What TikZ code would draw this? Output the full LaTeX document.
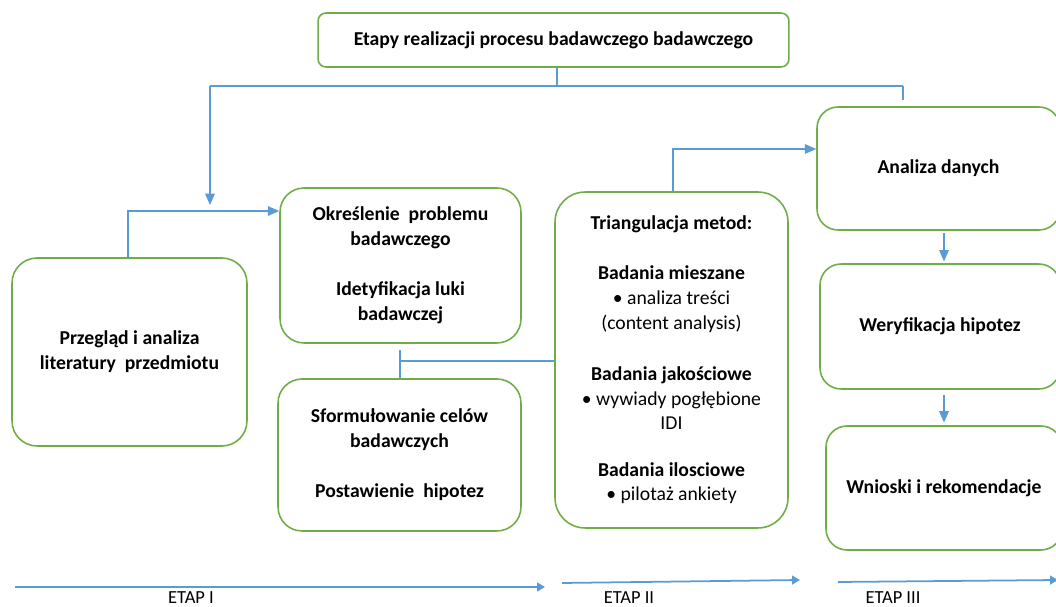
\documentclass[tikz,border=0pt]{standalone}
\usepackage{fontspec}
\setmainfont{Carlito}
\usetikzlibrary{arrows.meta}

\definecolor{boxgreen}{RGB}{112,173,71}
\definecolor{linkblue}{RGB}{91,155,213}

\begin{document}
\begin{tikzpicture}[x=0.02cm, y=-0.02cm,
  box/.style={draw=boxgreen, line width=0.9pt, align=center, inner sep=0pt,
    font=\bfseries\fontsize{11.2}{14.2}\selectfont},
  link/.style={draw=linkblue, line width=0.7pt},
  linkarrow/.style={-{Triangle[length=6.5pt,width=5.5pt]}},
  stage/.style={draw=linkblue, line width=1pt, -{Triangle[length=4.5pt,width=5pt]}},
  stagelabel/.style={anchor=base, inner sep=0pt, font=\fontsize{10.5}{12}\selectfont}]
\useasboundingbox (0,0) rectangle (1056,607);

\node[box, rounded corners=0.16cm, minimum width=9.42cm, minimum height=1.08cm]
  (etapy) at (553.5,40) {Etapy realizacji procesu badawczego badawczego};

\node[box, rounded corners=0.5cm, minimum width=4.70cm, minimum height=3.76cm]
  (przeglad) at (129.5,352) {Przegląd i analiza\\literatury\ \ przedmiotu};
\node[box, rounded corners=0.48cm, minimum width=4.82cm, minimum height=3.10cm]
  (okreslenie) at (400.5,265.5)
  {Określenie\ \ problemu\\badawczego\\[14.4pt]Idetyfikacja luki\\badawczej};
\node[box, rounded corners=0.48cm, minimum width=4.86cm, minimum height=3.04cm]
  (sformulowanie) at (399.5,455)
  {Sformułowanie celów\\badawczych\\[14.4pt]Postawienie\ \ hipotez};

\node[box, rounded corners=0.6cm, minimum width=4.66cm, minimum height=6.72cm]
  (triangulacja) at (671.5,360)
  {Triangulacja metod:\\[14.4pt]
   Badania mieszane\\
   {\mdseries\textbullet\ analiza treści}\\
   {\mdseries(content analysis)}\\[14.4pt]
   Badania jakościowe\\
   {\mdseries\textbullet\ wywiady pogłębione}\\
   {\mdseries IDI}\\[12pt]
   Badania ilosciowe\\
   {\mdseries\textbullet\ pilotaż ankiety}};

\node[box, rounded corners=0.42cm, minimum width=4.86cm, minimum height=2.46cm]
  (analiza) at (938.5,168.5) {Analiza danych};
\node[box, rounded corners=0.42cm, minimum width=4.80cm, minimum height=2.50cm]
  (weryfikacja) at (940,326.5) {Weryfikacja hipotez};
\node[box, rounded corners=0.42cm, minimum width=4.72cm, minimum height=2.48cm]
  (wnioski) at (944,488) {Wnioski i rekomendacje};

%%%%%%%%%%%%%%%%%%%%%%%%%%%%%%%%%%%%%%%%

\path (210,86) coordinate (busL) (557,86) coordinate (busM) (903,86) coordinate (busR);
\draw[link] (etapy.south -| busM) -- (busM);
\draw[link] (busL) -- (busR);
\draw[link, linkarrow] (busL) -- ++(0,119);
\draw[link] (busR) -- ++(0,14);

\path (128,211) coordinate (litbend);
\draw[link, linkarrow] (przeglad.north -| litbend) |- (okreslenie.west |- litbend);

\path (400,361) coordinate (celbend);
\draw[link] (celbend) -- ++(0,-11);
\draw[link] (celbend) -- (sformulowanie.north -| celbend);
\draw[link] (celbend) -- (triangulacja.west |- celbend);

\path (673,149) coordinate (metbend);
\draw[link, linkarrow] (triangulacja.north -| metbend) |- (analiza.west |- metbend);

\path (944,0) coordinate (col);
\draw[link, linkarrow, shorten <=1pt, shorten >=1pt] (analiza.south -| col) -- (weryfikacja.north -| col);
\draw[link, linkarrow, shorten <=3pt, shorten >=1.5pt] (weryfikacja.south -| col) -- (wnioski.north -| col);

%%%%%%%%%%%%%%%%%%%%%%%%%%%%%%%%%%%%%%%%

\draw[stage] (15,587) coordinate (etapIstart) -- (545,587) coordinate (etapIend);
\draw[stage] (562,583) coordinate (etapIIstart) -- (800,580) coordinate (etapIIend);
\draw[stage] (838,582) coordinate (etapIIIstart) -- (1058,580) coordinate (etapIIIend);
\node[stagelabel] (etapI) at (191,604) {ETAP I};
\node[stagelabel] (etapII) at (629,604) {ETAP II};
\node[stagelabel] (etapIII) at (893,604) {ETAP III};

\end{tikzpicture}
\end{document}
